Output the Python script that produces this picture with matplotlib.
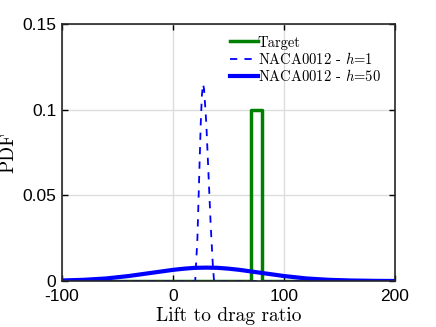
import matplotlib
matplotlib.use("Agg")
import matplotlib.pyplot as plt

plt.rcParams['mathtext.fontset'] = 'cm'
plt.rcParams['font.family'] = ['Liberation Sans', 'DejaVu Sans']

# target: uniform PDF on [70, 80]
target_x = [-100, 70, 70, 80, 80, 200]
target_y = [0, 0, 0.1, 0.1, 0, 0]

# NACA0012, h=1 (narrow peak)
h1_x = [-100, 20, 22, 24, 25, 26, 27, 28, 30, 32, 34, 36, 37, 200]
h1_y = [0, 0, 0.025, 0.07, 0.092, 0.108, 0.115, 0.112, 0.092, 0.062,
        0.032, 0.008, 0, 0]

# NACA0012, h=50 (wide curve)
h50_x = [-100, -80, -60, -40, -20, 0, 10, 20, 30, 40, 50, 60, 80,
         100, 120, 140, 160, 180, 200]
h50_y = [0.0003, 0.0007, 0.0015, 0.0029, 0.0047, 0.0065, 0.0072, 0.0077,
         0.0078, 0.0077, 0.0072, 0.0065, 0.0047, 0.0029, 0.0015, 0.0007,
         0.0003, 0.0001, 0.0000]

serif = 'cmr10'

fig = plt.figure(figsize=(4.36, 3.27), dpi=100)
ax = fig.add_axes([62/436, 1 - 281/327, 333/436, 257/327])

ax.plot(target_x, target_y, color=(0, 0.5, 0), lw=2.5, label='Target')
ax.plot(h1_x, h1_y, color='blue', lw=1.3, ls=(0, (4, 4)),
        label='NACA0012 - $h$=1')
ax.plot(h50_x, h50_y, color='blue', lw=3, label='NACA0012 - $h$=50')

ax.set_xlim(-100, 200)
ax.set_ylim(0, 0.15)
ax.set_xticks([-100, 0, 100, 200])
ax.set_xticklabels(['-100', '0', '100', '200'])
ax.set_yticks([0, 0.05, 0.1, 0.15])
ax.set_yticklabels(['0', '0.05', '0.1', '0.15'])
ax.tick_params(axis='both', direction='in', top=True, right=True,
               labelsize=12.5, length=4, width=1)
ax.tick_params(axis='x', pad=6)
ax.tick_params(axis='y', pad=4)
ax.grid(True, color='#dddddd', lw=1)
ax.set_axisbelow(True)
for s in ax.spines.values():
    s.set_linewidth(1.2)
    s.set_color('#262626')

ax.set_xlabel('Lift to drag ratio', fontsize=14, family=serif, labelpad=2)
ax.set_ylabel('PDF', fontsize=14, family=serif)
ax.yaxis.set_label_coords(-0.135, 0.5)

ax.legend(loc='upper left', bbox_to_anchor=(0.505, 0.955), frameon=False,
          prop={'family': serif, 'size': 10.5}, handlelength=1.9,
          handletextpad=0.0, labelspacing=0.1, borderpad=0,
          borderaxespad=0)

fig.savefig('out.png', dpi=100)
